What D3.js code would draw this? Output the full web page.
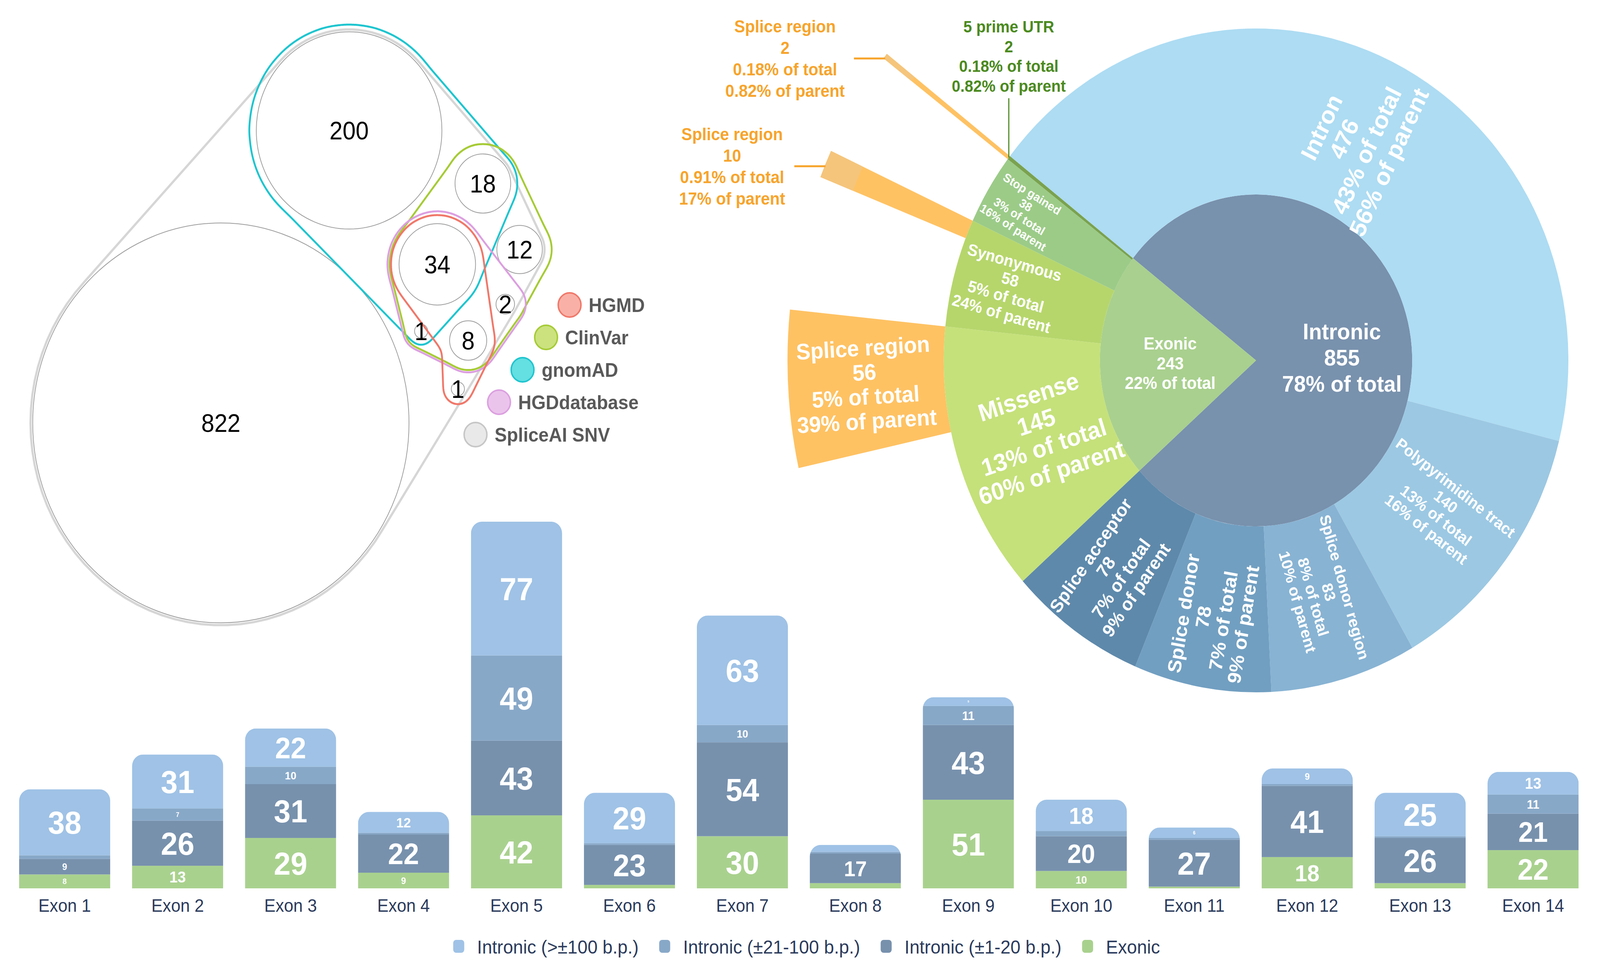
<!DOCTYPE html>
<html>
<head>
<meta charset="utf-8">
<title>SpliceAI variants: databases, consequences and exons</title>
<script src="https://cdnjs.cloudflare.com/ajax/libs/d3/7.8.5/d3.min.js"></script>
<style>
    html, body { margin: 0; padding: 0; width: 100%; height: 100%; overflow: hidden; background: #fff; }
    svg { display: block; width: 100vw; height: 100vh; font-family: "Liberation Sans", Arial, sans-serif; }
</style>
</head>
<body>
<svg id="chart" viewBox="0 0 4354 2479" preserveAspectRatio="none"></svg>
<script>
// ---------- Euler diagram data ----------
const vennCounts = [822, 200, 18, 34, 12, 2, 8, 1, 1];
const vennSets = ["HGMD", "ClinVar", "gnomAD", "HGDdatabase", "SpliceAI SNV"];
// which counts (index into vennCounts) fall inside each set
const vennMembers = [
    [3, 6, 8],
    [2, 3, 4, 5, 6, 7],
    [1, 2, 3, 7],
    [3, 5, 6, 7],
    [0, 1, 2, 3, 4, 5, 6, 7, 8]
];

// ---------- sunburst data ----------
const sunPaths = [
    "Intronic",
    "Intronic/Intron",
    "Intronic/Polypyrimidine tract",
    "Intronic/Splice donor region",
    "Intronic/Splice donor",
    "Intronic/Splice acceptor",
    "Exonic",
    "Exonic/Missense",
    "Exonic/Missense/other",
    "Exonic/Missense/Splice region",
    "Exonic/Synonymous",
    "Exonic/Synonymous/other",
    "Exonic/Synonymous/Splice region",
    "Exonic/Stop gained",
    "Exonic/5 prime UTR",
    "Exonic/5 prime UTR/Splice region"
];
const sunCounts = [0, 476, 140, 83, 78, 78, 0, 0, 89, 56, 0, 48, 10, 38, 0, 2];

// ---------- stacked bar data ----------
const exons = ["Exon 1", "Exon 2", "Exon 3", "Exon 4", "Exon 5", "Exon 6", "Exon 7",
               "Exon 8", "Exon 9", "Exon 10", "Exon 11", "Exon 12", "Exon 13", "Exon 14"];
const barSeries = ["Exonic", "Intronic (±1-20 b.p.)", "Intronic (±21-100 b.p.)", "Intronic (>±100 b.p.)"];
const exonicCounts   = [8, 13, 29, 9, 42, 2, 30, 3, 51, 10, 1, 18, 3, 22];
const intron1to20    = [9, 26, 31, 22, 43, 23, 54, 17, 43, 20, 27, 41, 26, 21];
const intron21to100  = [2, 7, 10, 1, 49, 1, 10, 1, 11, 3, 1, 1, 1, 11];
const intronOver100  = [38, 31, 22, 12, 77, 29, 63, 4, 5, 18, 6, 9, 25, 13];
const legendOrder = ["Intronic (>±100 b.p.)", "Intronic (±21-100 b.p.)", "Intronic (±1-20 b.p.)", "Exonic"];

// ---------- layout / style (kept apart from the data) ----------
// circle centres in venn units (1 unit = 10 px)
const vennLayout = [[60.1, 108.3], [95.0, 33.4], [131.4, 47.0], [119.0, 67.7], [141.4, 63.9],
                    [137.5, 77.9], [127.4, 87.2], [114.6, 84.8], [124.6, 99.6]];
const vennLinks = {
    "gnomAD": [[1, 2], [2, 3], [3, 7], [1, 7], [1, 3]],
    "HGMD": [[3, 6], [6, 8]]
};
const vennStyle = {
    "HGMD":         {line: "#f0786a", fill: "#f9b1a7", pad: 22},
    "ClinVar":      {line: "#a6cb35", fill: "#cbe27f", pad: 25},
    "gnomAD":       {line: "#1ec5cf", fill: "#64dfe2", pad: 18},
    "HGDdatabase":  {line: "#dc9fe0", fill: "#ebc4ec", pad: 31},
    "SpliceAI SNV": {line: "#c6c6c6", fill: "#e9e9e9", pad: 6}
};
const sunColor = {
    "Intronic": "#7891ad", "Exonic": "#a9d08e",
    "Intron": "#addcf3", "Polypyrimidine tract": "#9cc8e3", "Splice donor region": "#88b3d3",
    "Splice donor": "#719fc1", "Splice acceptor": "#5e89ab",
    "Missense": "#c5e17a", "Synonymous": "#b6d66c", "Stop gained": "#9ccb88",
    "5 prime UTR": "#7aa24e", "Splice region": "#fec263"
};
const sunLabelStyle = {
    "Intronic": {size: 58}, "Exonic": {size: 44},
    "Intronic/Intron": {size: 63, r: 615},
    "Intronic/Polypyrimidine tract": {size: 41, r: 630},
    "Intronic/Splice donor region": {size: 41, r: 625},
    "Intronic/Splice donor": {size: 51, r: 672},
    "Intronic/Splice acceptor": {size: 47, r: 668},
    "Exonic/Missense": {size: 63, r: 618},
    "Exonic/Synonymous": {size: 42, r: 700},
    "Exonic/Stop gained": {size: 31, r: 742},
    "Exonic/Missense/Splice region": {size: 58, r: 1066}
};
const barColor = {
    "Intronic (>±100 b.p.)": "#9fc2e6",
    "Intronic (±21-100 b.p.)": "#88a8c8",
    "Intronic (±1-20 b.p.)": "#7791ad",
    "Exonic": "#a9d18e"
};

const svg = d3.select("#chart");
svg.append("rect").attr("width", 4354).attr("height", 2479).attr("fill", "#fff");

// =====================================================================
// Euler diagram
// =====================================================================
const gVenn = svg.append("g");
const vx = d3.scaleLinear().domain([0, 180]).range([0, 1800]);
const vy = d3.scaleLinear().domain([0, 180]).range([0, 1800]);
const vr = d3.scaleSqrt().domain([0, 822]).range([0, 512]);

const vennNodes = vennCounts.map((n, i) => ({
    n: n, x: vx(vennLayout[i][0]), y: vy(vennLayout[i][1]), r: vr(n)
}));

function ringPoints(c, pad, k) {
    k = k || 90;
    return d3.range(k).map(j => {
        const a = j / k * 2 * Math.PI;
        return [c.x + (c.r + pad) * Math.cos(a), c.y + (c.r + pad) * Math.sin(a)];
    });
}

function allPairs(arr) {
    const out = [];
    for (let i = 0; i < arr.length; i++)
        for (let j = i + 1; j < arr.length; j++) out.push([arr[i], arr[j]]);
    return out;
}

function boxBlur(src, w, h, r) {
    const tmp = new Float32Array(w * h), out = new Float32Array(w * h), n = 2 * r + 1;
    for (let j = 0; j < h; j++) {
        let s = 0;
        for (let i = -r; i <= r; i++) s += src[j * w + Math.min(w - 1, Math.max(0, i))];
        for (let i = 0; i < w; i++) {
            tmp[j * w + i] = s / n;
            s += src[j * w + Math.min(w - 1, i + r + 1)] - src[j * w + Math.max(0, i - r)];
        }
    }
    for (let i = 0; i < w; i++) {
        let s = 0;
        for (let j = -r; j <= r; j++) s += tmp[Math.min(h - 1, Math.max(0, j)) * w + i];
        for (let j = 0; j < h; j++) {
            out[j * w + i] = s / n;
            s += tmp[Math.min(h - 1, j + r + 1) * w + i] - tmp[Math.max(0, j - r) * w + i];
        }
    }
    return out;
}

// smooth outline around a set: union of padded circles and link hulls,
// blurred and contoured with d3.contours
function setOutline(members, links, pad) {
    const cell = 3, W = 1800, H = 1750;
    const nx = Math.ceil(W / cell), ny = Math.ceil(H / cell);
    const cv = document.createElement("canvas");
    cv.width = nx; cv.height = ny;
    const ctx = cv.getContext("2d");
    ctx.scale(1 / cell, 1 / cell);
    ctx.fillStyle = "#000";
    members.forEach(i => {
        const c = vennNodes[i];
        ctx.beginPath();
        ctx.arc(c.x, c.y, c.r + pad, 0, 2 * Math.PI);
        ctx.fill();
    });
    links.forEach(([a, b]) => {
        const hull = d3.polygonHull(ringPoints(vennNodes[a], pad).concat(ringPoints(vennNodes[b], pad)));
        ctx.beginPath();
        hull.forEach((p, k) => k ? ctx.lineTo(p[0], p[1]) : ctx.moveTo(p[0], p[1]));
        ctx.closePath();
        ctx.fill();
    });
    const img = ctx.getImageData(0, 0, nx, ny).data;
    let v = new Float32Array(nx * ny);
    for (let k = 0; k < nx * ny; k++) v[k] = img[4 * k + 3] / 255;
    v = boxBlur(v, nx, ny, 4);
    v = boxBlur(v, nx, ny, 4);
    const contour = d3.contours().size([nx, ny]).thresholds([0.5])(Array.from(v))[0];
    return d3.geoPath(d3.geoIdentity().scale(cell))(contour);
}

// SpliceAI SNV: convex hull of every circle
const spliceIdx = vennSets.indexOf("SpliceAI SNV");
const hullPts = d3.polygonHull(vennMembers[spliceIdx].flatMap(i => ringPoints(vennNodes[i], vennStyle["SpliceAI SNV"].pad)));
gVenn.append("path")
    .attr("d", "M" + hullPts.join("L") + "Z")
    .attr("fill", "#fff")
    .attr("stroke", "#d6d6d6")
    .attr("stroke-width", 6)
    .attr("stroke-linejoin", "round");

gVenn.selectAll("circle.count")
    .data(vennNodes)
    .join("circle")
    .attr("class", "count")
    .attr("cx", d => d.x)
    .attr("cy", d => d.y)
    .attr("r", d => d.r)
    .attr("fill", "#fff")
    .attr("stroke", "#9d9d9d")
    .attr("stroke-width", 2);

// coloured set outlines
["gnomAD", "ClinVar", "HGDdatabase", "HGMD"].forEach(name => {
    const members = vennMembers[vennSets.indexOf(name)];
    const links = vennLinks[name] || allPairs(members);
    gVenn.append("path")
        .attr("d", setOutline(members, links, vennStyle[name].pad))
        .attr("fill", "none")
        .attr("stroke", vennStyle[name].line)
        .attr("stroke-width", 5)
        .attr("stroke-linejoin", "round");
});

gVenn.selectAll("text.count")
    .data(vennNodes)
    .join("text")
    .attr("class", "count")
    .attr("x", d => d.x)
    .attr("y", d => d.y)
    .attr("dy", "0.36em")
    .attr("text-anchor", "middle")
    .attr("font-size", 64)
    .attr("fill", "#000")
    .text(d => d.n);

// venn legend (diagonal)
const vLeg = gVenn.selectAll("g.vleg")
    .data(vennSets)
    .join("g")
    .attr("class", "vleg")
    .attr("transform", (d, i) => `translate(${1550 - 64 * i},${781 + 83 * i})`);
vLeg.append("circle")
    .attr("r", 31)
    .attr("fill", d => vennStyle[d].fill)
    .attr("stroke", d => vennStyle[d].line)
    .attr("stroke-width", 4);
vLeg.append("text")
    .attr("x", 52)
    .attr("dy", "0.36em")
    .attr("font-size", 50)
    .attr("font-weight", "bold")
    .attr("fill", "#595959")
    .text(d => d);

// =====================================================================
// Sunburst
// =====================================================================
const sunCx = 3418, sunCy = 923;
const gSun = svg.append("g").attr("transform", `translate(${sunCx},${sunCy})`);

const rows = [{id: "root", parent: null, value: 0}].concat(sunPaths.map((p, i) => ({
    id: p,
    parent: p.includes("/") ? p.slice(0, p.lastIndexOf("/")) : "root",
    value: sunCounts[i]
})));
const root = d3.stratify().id(d => d.id).parentId(d => d.parent)(rows).sum(d => d.value);
d3.partition().size([2 * Math.PI, root.height + 1])(root);

const total = root.value;
const rot = -52 * Math.PI / 180;
const rScale = d3.scaleLinear().domain([1, 4]).range([0, 1275]);
const nameOf = d => d.id.split("/").pop();
const arc = d3.arc()
    .startAngle(d => d.x0 + rot)
    .endAngle(d => d.x1 + rot)
    .innerRadius(d => rScale(d.y0))
    .outerRadius(d => rScale(d.y1));

const shown = root.descendants().filter(d => d.depth > 0 && nameOf(d) !== "other");

gSun.selectAll("path.seg")
    .data(shown)
    .join("path")
    .attr("class", "seg")
    .attr("d", arc)
    .attr("fill", d => sunColor[nameOf(d)]);

const pct = v => (v < 1 ? v.toFixed(2) : Math.round(v)) + "%";
function parentFor(d) {
    let p = d.parent;
    while (p.parent && p.children.length === 1) p = p.parent;
    return p;
}
function linesFor(d) {
    const out = [nameOf(d), String(d.value), pct(d.value / total * 100) + " of total"];
    if (d.depth > 1) out.push(pct(d.value / parentFor(d).value * 100) + " of parent");
    return out;
}
function writeLines(textSel, lines, size, lh) {
    const n = lines.length;
    lines.forEach((t, k) => {
        textSel.append("tspan")
            .attr("x", 0)
            .attr("y", (k - (n - 1) / 2) * size * lh)
            .attr("dy", "0.35em")
            .text(t);
    });
}

const small = d => d.depth >= 2 && (d.x1 - d.x0) < 0.08;

// lighter tips on the thin outer slices that carry leader labels
gSun.selectAll("path.tip")
    .data(shown.filter(d => small(d) && d.depth === 3))
    .join("path")
    .attr("class", "tip")
    .attr("d", d3.arc()
        .startAngle(d => d.x0 + rot)
        .endAngle(d => d.x1 + rot)
        .innerRadius(rScale(4) - 95)
        .outerRadius(rScale(4)))
    .attr("fill", "#f5c57c");

// inside labels
shown.filter(d => !small(d) && sunLabelStyle[d.id]).forEach(d => {
    const st = sunLabelStyle[d.id];
    const mid = (d.x0 + d.x1) / 2 + rot;
    let r, ang;
    if (d.depth === 1) {
        r = 0.55 * rScale(2);
        ang = 0;
    } else {
        r = st.r || (rScale(d.y0) + rScale(d.y1)) / 2;
        const midDeg = ((mid * 180 / Math.PI) % 360 + 360) % 360;
        ang = midDeg - 90;
        if (midDeg > 180) ang -= 180;
    }
    const g = gSun.append("g")
        .attr("transform", `translate(${r * Math.sin(mid)},${-r * Math.cos(mid)}) rotate(${ang})`);
    const t = g.append("text")
        .attr("text-anchor", "middle")
        .attr("font-size", st.size)
        .attr("font-weight", "bold")
        .attr("fill", "#fff");
    writeLines(t, linesFor(d), st.size, d.depth === 1 ? 1.15 : 1.08);
});

// leader labels for the thin slices
shown.filter(small).forEach(d => {
    const mid = (d.x0 + d.x1) / 2 + rot;
    const isUtr = d.depth === 2;
    const color = isUtr ? "#4b8a1f" : "#f7a42c";
    const size = isUtr ? 42 : 44;
    const lh = isUtr ? 1.2 : 1.25;
    const r = rScale(d.y1);
    const px = r * Math.sin(mid), py = -r * Math.cos(mid) + (isUtr ? 0 : 6);
    const g = gSun.append("g");
    const t = g.append("text")
        .attr("text-anchor", "middle")
        .attr("font-size", size)
        .attr("font-weight", "bold")
        .attr("fill", color);
    writeLines(t, linesFor(d), size, lh);
    const w = t.node().getBBox().width;
    if (isUtr) {
        const top = py - 152;
        g.append("line")
            .attr("x1", px).attr("x2", px).attr("y1", py).attr("y2", top)
            .attr("stroke", color).attr("stroke-width", 3);
        t.attr("transform", `translate(${px},${top - 17 - 0.35 * size - 1.5 * size * lh})`);
    } else {
        const end = px - 85;
        g.append("line")
            .attr("x1", px).attr("x2", end).attr("y1", py).attr("y2", py)
            .attr("stroke", color).attr("stroke-width", 5);
        t.attr("transform", `translate(${end - 25 - w / 2},${py})`);
    }
});

// =====================================================================
// Stacked bars
// =====================================================================
const gBar = svg.append("g");
const x = d3.scaleBand().domain(exons).range([52, 4296]).paddingInner(0.193).paddingOuter(0);
const y = d3.scaleLinear().domain([0, 211]).range([2275, 1336]);

const seriesValues = {
    "Exonic": exonicCounts,
    "Intronic (±1-20 b.p.)": intron1to20,
    "Intronic (±21-100 b.p.)": intron21to100,
    "Intronic (>±100 b.p.)": intronOver100
};
const table = exons.map((e, i) => {
    const row = {exon: e};
    barSeries.forEach(s => { row[s] = seriesValues[s][i]; });
    return row;
});
const stacked = d3.stack().keys(barSeries)(table);

const defs = svg.append("defs");
const rad = 30;
exons.forEach((e, i) => {
    const top = y(stacked[stacked.length - 1][i][1]);
    const x0 = x(e), x1 = x(e) + x.bandwidth(), base = y(0);
    defs.append("clipPath").attr("id", "bar-clip-" + i)
        .append("path")
        .attr("d", `M${x0},${base}V${top + rad}A${rad},${rad} 0 0 1 ${x0 + rad},${top}` +
                   `H${x1 - rad}A${rad},${rad} 0 0 1 ${x1},${top + rad}V${base}Z`);
});

const barGroups = gBar.selectAll("g.bar")
    .data(exons)
    .join("g")
    .attr("class", "bar")
    .attr("clip-path", (d, i) => `url(#bar-clip-${i})`);

barGroups.each(function(e, i) {
    const g = d3.select(this);
    stacked.forEach(layer => {
        const seg = layer[i];
        g.append("rect")
            .attr("x", x(e))
            .attr("width", x.bandwidth())
            .attr("y", y(seg[1]))
            .attr("height", y(seg[0]) - y(seg[1]))
            .attr("fill", barColor[layer.key]);
    });
});

// value labels
stacked.forEach(layer => {
    layer.forEach((seg, i) => {
        const v = seg[1] - seg[0];
        if (v < 5) return;
        gBar.append("text")
            .attr("x", x(exons[i]) + x.bandwidth() / 2)
            .attr("y", (y(seg[0]) + y(seg[1])) / 2)
            .attr("dy", "0.36em")
            .attr("text-anchor", "middle")
            .attr("font-size", Math.min(82, 4 * v - 12))
            .attr("font-weight", "bold")
            .attr("fill", "#fff")
            .text(v);
    });
});

// category axis labels
gBar.selectAll("text.exon")
    .data(exons)
    .join("text")
    .attr("class", "exon")
    .attr("x", d => x(d) + x.bandwidth() / 2)
    .attr("y", 2335)
    .attr("text-anchor", "middle")
    .attr("font-size", 46)
    .attr("fill", "#2b3b5c")
    .text(d => d);

// legend
const leg = gBar.append("g");
let cursor = 0;
legendOrder.forEach(s => {
    const item = leg.append("g").attr("transform", `translate(${cursor},0)`);
    item.append("rect")
        .attr("x", 0).attr("y", -17)
        .attr("width", 30).attr("height", 33)
        .attr("rx", 8)
        .attr("fill", barColor[s]);
    const t = item.append("text")
        .attr("x", 65)
        .attr("y", 0)
        .attr("dy", "0.36em")
        .attr("font-size", 49)
        .attr("fill", "#2b3b5c")
        .text(s);
    cursor += 65 + t.node().getComputedTextLength() + 56;
});
const legWidth = cursor - 56;
leg.attr("transform", `translate(${2195 - legWidth / 2},2424)`);
</script>
</body>
</html>
